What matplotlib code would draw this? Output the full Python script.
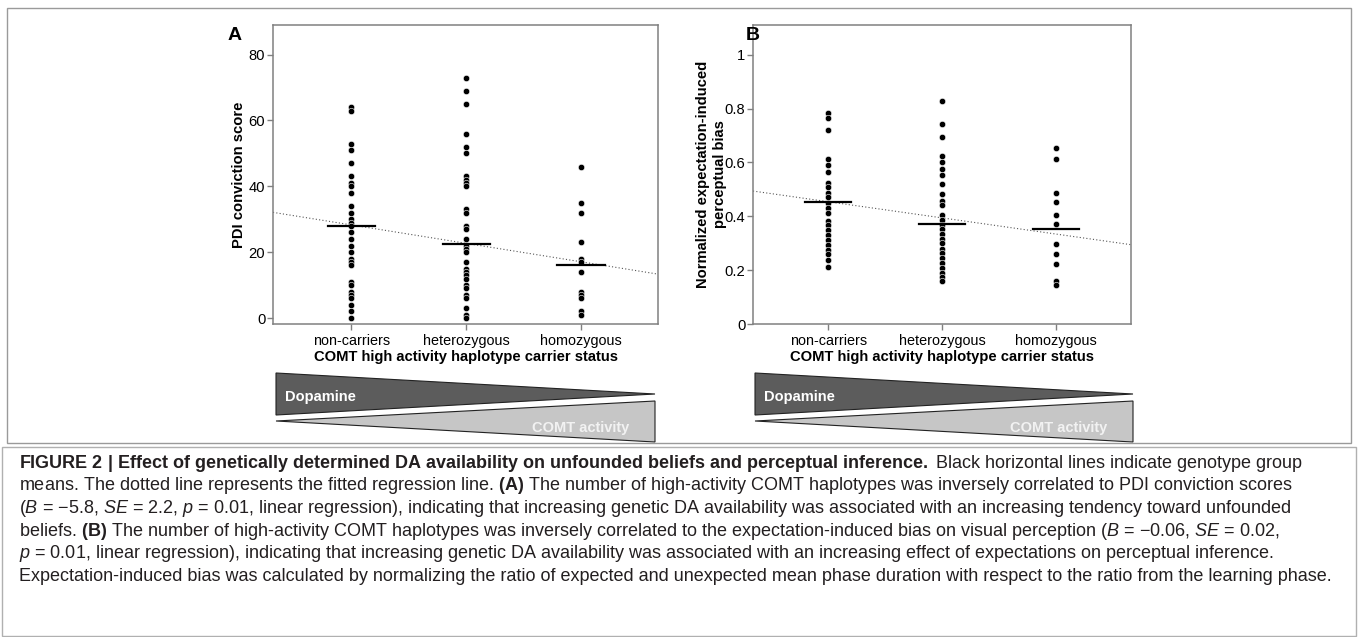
import numpy as np
import matplotlib
matplotlib.use("Agg")
import matplotlib.pyplot as plt
from matplotlib.patches import Polygon, Rectangle

plt.rcParams['font.family'] = ['Liberation Sans', 'DejaVu Sans']
plt.rcParams['mathtext.fontset'] = 'custom'
plt.rcParams['mathtext.rm'] = 'Liberation Sans'
plt.rcParams['mathtext.it'] = 'Liberation Sans:italic'
plt.rcParams['mathtext.bf'] = 'Liberation Sans:bold'

# -----
# data
# -----
groups = ["non-carriers", "heterozygous", "homozygous"]

pdi_non = [64, 63, 53, 51, 47, 43, 41, 40, 38, 34, 32, 30, 29, 28, 26, 24, 22,
           20, 18, 17, 16, 11, 10, 8, 7, 6, 4, 2, 0]
pdi_het = [73, 69, 65, 56, 52, 50, 43, 42, 41, 40, 33, 32, 28, 27, 24, 22, 21,
           20, 17, 15, 14, 13, 12, 10, 9, 7, 6, 3, 1, 0]
pdi_hom = [46, 35, 32, 23, 18, 17, 14, 8, 7, 6, 2, 1]
pdi_means = [27.9, 22.4, 16.0]
pdi_fit = [28.3, -5.6]          # intercept, slope
pdi_ticks = [0, 20, 40, 60, 80]

bias_non = [0.783, 0.766, 0.721, 0.612, 0.590, 0.565, 0.523, 0.508, 0.486,
            0.471, 0.449, 0.429, 0.411, 0.382, 0.367, 0.349, 0.330, 0.312,
            0.292, 0.275, 0.260, 0.238, 0.213]
bias_het = [0.828, 0.743, 0.695, 0.622, 0.600, 0.577, 0.555, 0.520, 0.483,
            0.458, 0.441, 0.404, 0.387, 0.369, 0.352, 0.335, 0.317, 0.300,
            0.280, 0.263, 0.245, 0.226, 0.208, 0.191, 0.176, 0.159]
bias_hom = [0.654, 0.612, 0.488, 0.452, 0.404, 0.372, 0.297, 0.260, 0.221,
            0.161, 0.143]
bias_means = [0.454, 0.371, 0.352]
bias_fit = [0.454, -0.06]
bias_ticks = [0, 0.2, 0.4, 0.6, 0.8, 1]
bias_ticklabels = ["0", "0.2", "0.4", "0.6", "0.8", "1"]

W, H = 1358, 637
fig = plt.figure(figsize=(W / 100, H / 100), dpi=100)


def fx(x):
    return x / W


def fy(y):
    return 1 - y / H


def panel(rect, cols, means, fit, xlim, ylim, ticks, ticklabels, ylabel, ylab_x):
    ax = fig.add_axes(rect)
    for i, vals in enumerate(cols):
        ax.scatter(np.full(len(vals), i), vals, s=21, color='black',
                   edgecolor='white', linewidth=0.4, zorder=3)
        ax.plot([i - 0.205, i + 0.205], [means[i], means[i]], color='black',
                lw=1.6, zorder=4)
    xs = np.array(xlim)
    ax.plot(xs, fit[0] + fit[1] * xs, color='#555555', lw=0.8,
            linestyle=(0, (1, 2)), zorder=2)
    ax.set_xlim(xlim)
    ax.set_ylim(ylim)
    ax.set_xticks(range(3))
    ax.set_xticklabels(groups, fontsize=10.4)
    ax.set_yticks(ticks)
    ax.set_yticklabels(ticklabels, fontsize=10.6)
    for s in ax.spines.values():
        s.set_color('#808080')
        s.set_linewidth(1.1)
    ax.tick_params(length=4, width=1, color='#808080', pad=1.5)
    ax.tick_params(axis='x', pad=3)
    ax.set_xlabel("COMT high activity haplotype carrier status",
                  fontsize=10.6, fontweight='bold', labelpad=2)
    ax.set_ylabel(ylabel, fontsize=10.6, fontweight='bold')
    ax.yaxis.set_label_coords(ylab_x, 0.5)
    return ax


bot = fy(324)
hgt = (324 - 25) / H
panel([fx(273), bot, fx(385), hgt], [pdi_non, pdi_het, pdi_hom], pdi_means,
      pdi_fit, (-0.68, 2.67), (-1.8, 89), pdi_ticks,
      [str(t) for t in pdi_ticks], "PDI conviction score", -0.07)
panel([fx(753), bot, fx(378), hgt], [bias_non, bias_het, bias_hom], bias_means,
      bias_fit, (-0.66, 2.66), (0, 1.11), bias_ticks, bias_ticklabels,
      "Normalized expectation-induced\nperceptual bias", -0.07)

fig.text(fx(228), fy(36), "A", fontsize=14, fontweight='bold', va='center')
fig.text(fx(746), fy(36), "B", fontsize=14, fontweight='bold', va='center')

# dopamine / COMT wedges
for x0, x1 in [(276, 655), (755, 1133)]:
    dark = [(fx(x0), fy(373)), (fx(x0), fy(415)), (fx(x1), fy(394))]
    light = [(fx(x0), fy(421)), (fx(x1), fy(401)), (fx(x1), fy(442))]
    fig.patches.append(Polygon(dark, closed=True, facecolor='#5c5c5c',
                               edgecolor='#222222', lw=0.8,
                               transform=fig.transFigure))
    fig.patches.append(Polygon(light, closed=True, facecolor='#c6c6c6',
                               edgecolor='#222222', lw=0.8,
                               transform=fig.transFigure))
    fig.text(fx(x0 + 9), fy(397), "Dopamine", color='white', fontsize=10.5,
             fontweight='bold', va='center')
    fig.text(fx(x1 - 26), fy(428), "COMT activity", color='#f2f2f2',
             fontsize=10.5, fontweight='bold', va='center', ha='right')

# frames
fig.patches.append(Rectangle((fx(7), fy(443)), fx(1344), 435 / H, fill=False,
                             edgecolor='#9a9a9a', lw=1,
                             transform=fig.transFigure))
fig.patches.append(Rectangle((fx(2), fy(636)), fx(1354), 189 / H, fill=False,
                             edgecolor='#b0b0b0', lw=1,
                             transform=fig.transFigure))

# caption
caption = [
    r"$\mathbf{FIGURE\ 2\ |\ Effect\ of\ genetically\ determined\ DA\ availability\ on\ unfounded\ beliefs\ and\ perceptual\ inference.\ }$"
    "Black horizontal lines indicate genotype group",
    r"means. The dotted line represents the fitted regression line. $\mathbf{(A)}$"
    " The number of high-activity COMT haplotypes was inversely correlated to PDI conviction scores",
    r"($\mathit{B}$ = −5.8, $\mathit{SE}$ = 2.2, $\mathit{p}$ = 0.01, linear regression), indicating that"
    " increasing genetic DA availability was associated with an increasing tendency toward unfounded",
    r"beliefs. $\mathbf{(B)}$ The number of high-activity COMT haplotypes was inversely correlated to the"
    r" expectation-induced bias on visual perception ($\mathit{B}$ = −0.06, $\mathit{SE}$ = 0.02,",
    r"$\mathit{p}$ = 0.01, linear regression), indicating that increasing genetic DA availability was"
    " associated with an increasing effect of expectations on perceptual inference.",
    "Expectation-induced bias was calculated by normalizing the ratio of expected and unexpected mean"
    " phase duration with respect to the ratio from the learning phase.",
]
for i, line in enumerate(caption):
    fig.text(fx(19), fy(463 + 22.7 * i), line, fontsize=13.0, color='#231f20',
             va='center')

fig.savefig("out.png", dpi=100)
